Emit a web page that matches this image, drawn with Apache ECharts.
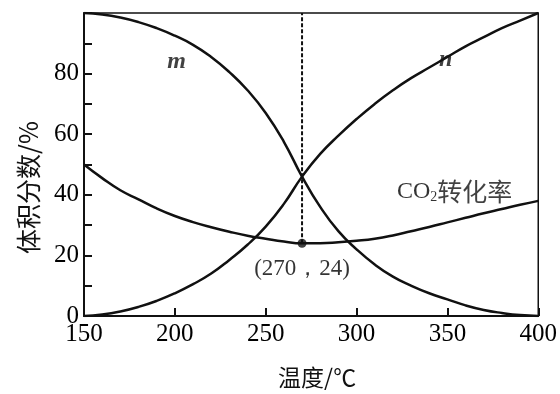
<!DOCTYPE html>
<html>
<head>
<meta charset="utf-8">
<script src="https://cdn.jsdelivr.net/npm/echarts@6/dist/echarts.min.js"></script>
<style>
  html, body { margin: 0; padding: 0; background: #fff; }
  #container { width: 560px; height: 394px; }
</style>
</head>
<body>
<div id="container"></div>
<script>
// Dados
var temps = [150, 160, 170, 180, 190, 200, 210, 220, 230, 240, 250, 260, 270,
             280, 290, 300, 310, 320, 330, 340, 350, 360, 370, 380, 390, 400];
var mValues = [100, 99.5, 98.5, 97, 95, 92.5, 89.5, 85.5, 80.5, 74.5, 67, 57.5, 46,
               36, 28, 22, 17, 13, 10, 7.5, 5.5, 3.5, 2, 1, 0.3, 0];
var nValues = [0, 0.5, 1.5, 3, 5, 7.5, 10.5, 14, 18.5, 23.5, 29.5, 37, 46,
               53.5, 59.5, 65, 70, 74.5, 78.5, 82, 85.5, 89, 92, 95, 97.5, 100];
var co2Values = [50, 45.5, 41.5, 38.5, 35.5, 33, 31, 29.3, 27.8, 26.5, 25.5, 24.6, 24,
                 24, 24.3, 24.8, 25.5, 26.6, 28, 29.4, 30.9, 32.4, 33.9, 35.3, 36.7, 38];
var xTicks = [150, 200, 250, 300, 350, 400];
var yTicks = [0, 20, 40, 60, 80];
var dashPoints = [[270, 24], [270, 100]];
var peakPoint = [270, 24];
var notes = [
    { name: 'm', value: [201, 84] },
    { name: 'n', value: [349, 84.5] },
    { name: 'co2', value: [354, 41] },
    { name: 'pt', value: [270, 15.5] }
];

function pairs(xs, ys) {
    return xs.map(function (x, i) { return [x, ys[i]]; });
}

var dom = document.getElementById('container');
var myChart = echarts.init(dom, null, { renderer: 'canvas' });

var curveStyle = { color: '#111', width: 2.5 };
var serif = '"Liberation Serif", "Times New Roman", serif';
var cjk = '"Noto Sans CJK SC", sans-serif';

var option = {
    backgroundColor: '#fff',
    animation: false,
    grid: {
        left: 84, right: 17, top: 13, bottom: 77,
        show: true, borderColor: '#111', borderWidth: 1.5
    },
    xAxis: {
        type: 'value',
        min: 150, max: 400, interval: 50,
        name: '温度/℃',
        nameLocation: 'middle',
        nameGap: 50,
        nameTextStyle: { fontFamily: cjk, fontSize: 23, color: '#111', padding: [0, 0, 0, 12] },
        axisLine: { lineStyle: { color: '#111', width: 2 } },
        axisTick: { inside: true, length: 8, lineStyle: { color: '#111', width: 2 } },
        axisLabel: {
            fontFamily: serif, fontSize: 25, color: '#000', margin: 6,
            formatter: function (v) { return xTicks.indexOf(v) >= 0 ? String(v) : ''; }
        },
        splitLine: { show: false }
    },
    yAxis: {
        type: 'value',
        min: 0, max: 100, interval: 10,
        name: '体积分数/%',
        nameLocation: 'middle',
        nameGap: 43,
        nameRotate: 90,
        nameTextStyle: { fontFamily: cjk, fontSize: 25, color: '#111', padding: [0, 46, 0, 0] },
        axisLine: { show: true, lineStyle: { color: '#111', width: 2 } },
        axisTick: { inside: true, length: 8, lineStyle: { color: '#111', width: 2 } },
        axisLabel: {
            fontFamily: serif, fontSize: 25, color: '#000', margin: 5,
            formatter: function (v) { return yTicks.indexOf(v) >= 0 ? String(v) : ''; }
        },
        splitLine: { show: false }
    },
    series: [
        {
            name: 'm', type: 'line', data: pairs(temps, mValues),
            smooth: true, symbol: 'none', lineStyle: curveStyle
        },
        {
            name: 'n', type: 'line', data: pairs(temps, nValues),
            smooth: true, symbol: 'none', lineStyle: curveStyle
        },
        {
            name: 'CO2转化率', type: 'line', data: pairs(temps, co2Values),
            smooth: true, symbol: 'none', lineStyle: curveStyle
        },
        {
            name: 'dash', type: 'line', data: dashPoints, symbol: 'none',
            lineStyle: { color: '#111', width: 2, type: [4, 2] }
        },
        {
            name: 'ponto', type: 'scatter', data: [peakPoint],
            symbolSize: 9, itemStyle: { color: '#111' }
        },
        {
            name: 'notas', type: 'scatter', data: notes, symbolSize: 0, silent: true,
            label: {
                show: true, position: 'inside', color: '#111',
                formatter: function (p) {
                    if (p.name === 'm') return '{it|m}';
                    if (p.name === 'n') return '{it|n}';
                    if (p.name === 'co2') return '{cn|CO}{sub|2}{cz|转化率}';
                    return '{pt|(270，24)}';
                },
                rich: {
                    it: { fontFamily: serif, fontStyle: 'italic', fontWeight: 'bold', fontSize: 24, color: '#111' },
                    cn: { fontFamily: serif, fontSize: 24, color: '#000' },
                    sub: { fontFamily: serif, fontSize: 14, color: '#000', verticalAlign: 'bottom', padding: [12, 0, 0, 0] },
                    cz: { fontFamily: cjk, fontSize: 25, color: '#111' },
                    pt: { fontFamily: serif, fontSize: 23, color: '#000' }
                }
            }
        }
    ]
};

myChart.setOption(option);

window.addEventListener('resize', function () {
    myChart.resize();
});
</script>
</body>
</html>
